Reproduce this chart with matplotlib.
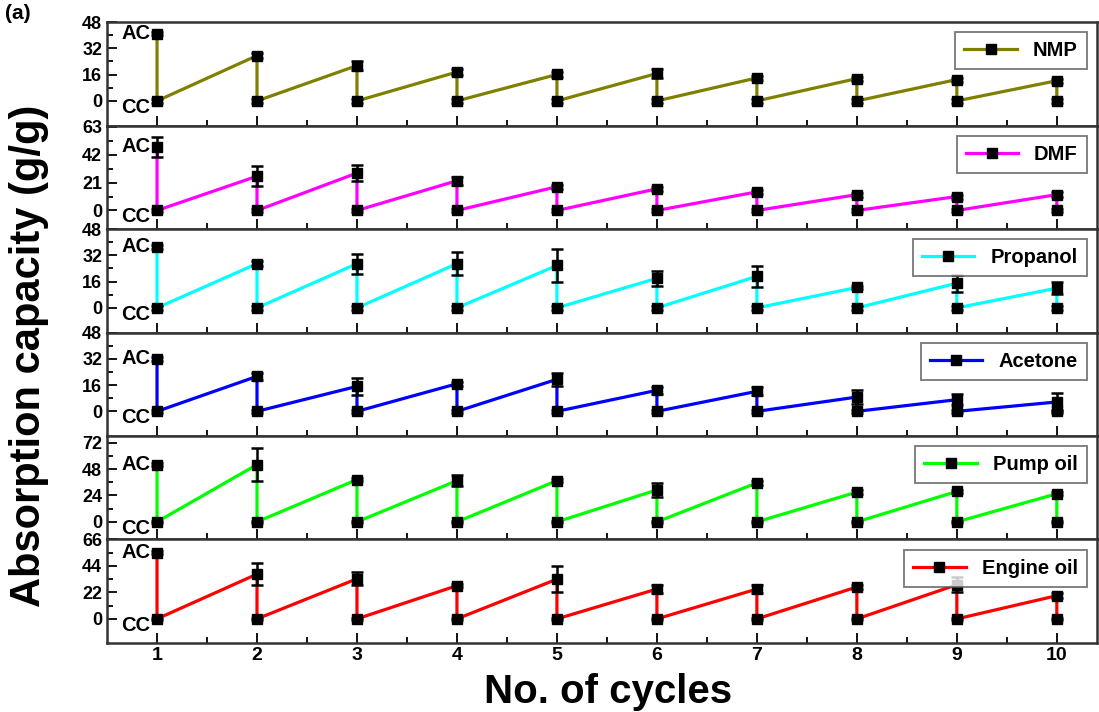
import numpy as np
import matplotlib.pyplot as plt

plt.rcParams['font.family'] = ['Liberation Sans', 'DejaVu Sans']
plt.rcParams['font.weight'] = 'bold'

# Daten
cycles = np.arange(1, 11)
names = ['NMP', 'DMF', 'Propanol', 'Acetone', 'Pump oil', 'Engine oil']
colors = ['#808000', '#ff00ff', '#00ffff', '#0000ff', '#00ff00', '#ff0000']

nmp_ac = [41.0, 27.6, 21.5, 17.6, 16.1, 16.7, 14.0, 13.6, 13.0, 12.3]
nmp_err = [1.0, 1.5, 2.5, 2.0, 1.5, 3.0, 1.2, 1.2, 1.2, 1.2]
dmf_ac = [48.0, 25.8, 28.2, 22.4, 17.9, 16.3, 14.0, 11.9, 10.5, 11.9]
dmf_err = [7.5, 7.5, 5.7, 3.0, 1.5, 1.5, 1.5, 1.5, 1.5, 2.0]
prop_ac = [37.2, 26.9, 26.9, 26.9, 25.8, 18.0, 19.2, 12.4, 15.0, 12.0]
prop_err = [1.2, 1.5, 6.0, 7.0, 10.0, 4.7, 6.2, 1.2, 5.3, 3.5]
acet_ac = [31.9, 21.3, 15.2, 16.8, 19.5, 12.8, 12.2, 8.7, 7.1, 5.7]
acet_err = [1.2, 2.0, 5.0, 1.2, 4.0, 2.0, 2.5, 4.0, 3.5, 5.3]
pump_ac = [52.0, 52.0, 38.4, 37.4, 37.4, 29.0, 35.4, 27.0, 27.6, 25.5]
pump_err = [1.5, 15.0, 1.5, 4.8, 1.5, 6.5, 1.5, 2.0, 1.5, 1.5]
eng_ac = [55.0, 37.2, 33.3, 27.6, 33.0, 24.8, 24.8, 26.5, 28.4, 19.3]
eng_err = [1.5, 9.4, 5.5, 1.5, 10.6, 3.0, 3.0, 1.5, 6.0, 2.0]
cc_err = 1.0

ac_all = [nmp_ac, dmf_ac, prop_ac, acet_ac, pump_ac, eng_ac]
err_all = [nmp_err, dmf_err, prop_err, acet_err, pump_err, eng_err]
yticks_all = [[0, 16, 32, 48], [0, 21, 42, 63], [0, 16, 32, 48],
              [0, 16, 32, 48], [0, 24, 48, 72], [0, 22, 44, 66]]
ylims = [(-15, 48), (-14, 64), (-15, 48), (-15, 48), (-16, 78), (-20, 66)]

fig, axes = plt.subplots(6, 1, sharex=True, figsize=(10.99, 7.12), dpi=100)
fig.subplots_adjust(left=0.0974, right=0.998, bottom=0.097, top=0.969, hspace=0)

for ax, name, col, ac, err, yt, yl in zip(axes, names, colors, ac_all, err_all, yticks_all, ylims):
    x = np.repeat(cycles, 2)
    y = np.ravel(np.column_stack([ac, np.zeros(10)]))
    e = np.ravel(np.column_stack([err, np.full(10, cc_err)]))
    ax.plot(x, y, '-', color=col, lw=2.3, zorder=2)
    ax.errorbar(x, y, yerr=e, fmt='none', ecolor='black', elinewidth=1.8,
                capsize=4.5, capthick=1.8, zorder=3)
    ax.plot(x, y, 's', color='black', ms=7, zorder=4)
    h, = ax.plot([], [], '-s', color=col, lw=2.3, mfc='black', mec='black', ms=6.5)
    leg = ax.legend([h], [name], loc='upper right', frameon=True,
                    fancybox=False, edgecolor='#555555', handlelength=2.6,
                    borderaxespad=0.5, borderpad=0.45,
                    prop={'weight': 'bold', 'size': 14.5})
    leg.get_frame().set_linewidth(1.3)
    ax.set_ylim(*yl)
    ax.set_yticks(yt)
    ax.set_yticks(np.array(yt[:-1]) + (yt[1] - yt[0]) / 2, minor=True)
    ax.tick_params(axis='both', which='both', direction='in', labelsize=13)
    ax.tick_params(axis='both', which='major', length=7, width=1.3)
    ax.tick_params(axis='both', which='minor', length=4, width=1.3)
    for lbl in ax.get_yticklabels():
        lbl.set_fontweight('bold')
    for s in ax.spines.values():
        s.set_linewidth(1.8)
        s.set_color('#333333')
    ax.text(0.93, ac[0], 'AC', ha='right', va='center', fontsize=14.5, fontweight='bold')
    ax.text(0.93, -0.06 * (yl[1] - yl[0]), 'CC', ha='right', va='center', fontsize=14.5, fontweight='bold')

axes[-1].set_xlim(0.5, 10.4)
axes[-1].set_xticks(cycles)
axes[-1].set_xticks(cycles[:-1] + 0.5, minor=True)
axes[-1].tick_params(axis='x', labelsize=14, pad=3)
for lbl in axes[-1].get_xticklabels():
    lbl.set_fontweight('bold')

fig.text(0.553, 0.0125, 'No. of cycles', ha='center', va='baseline', fontsize=29, fontweight='bold')
fig.text(0.008, 0.5, 'Absorption capacity (g/g)', ha='left', va='center', rotation=90,
         fontsize=30, fontweight='bold')
fig.text(0.005, 0.995, '(a)', ha='left', va='top', fontsize=15, fontweight='bold')

plt.savefig('out.png', dpi=100)
